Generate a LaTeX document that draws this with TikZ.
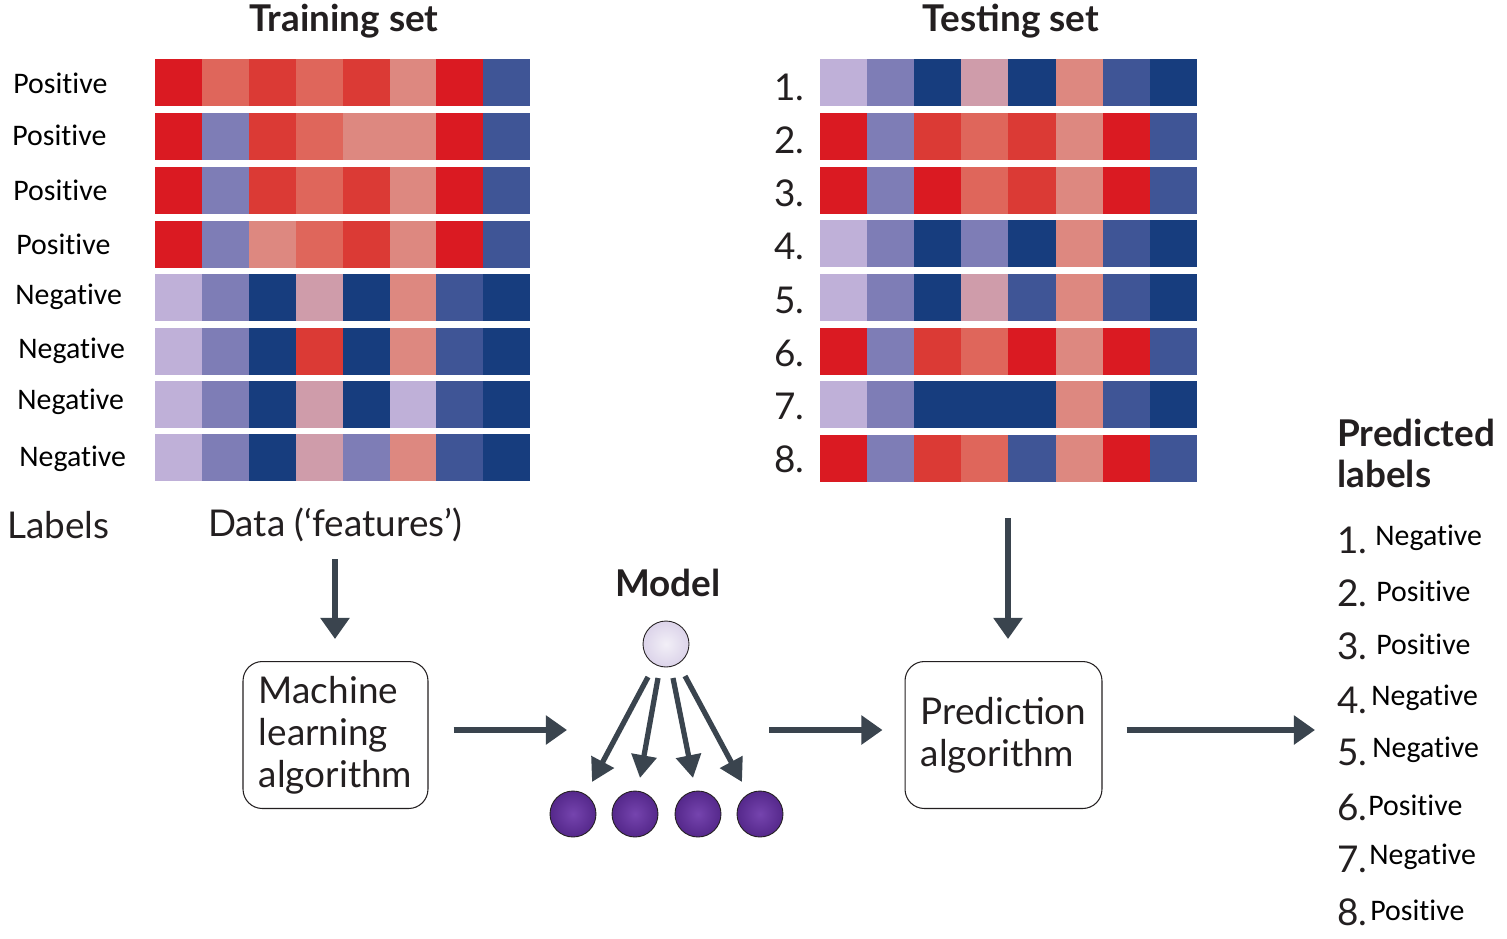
\documentclass[tikz,border=0pt]{standalone}
\usepackage{fontspec}
\setmainfont{Lato}
\newfontfamily\labelfont{Carlito}[Ligatures=NoCommon]
\usetikzlibrary{arrows.meta, positioning, calc}
\definecolor{hmra}{HTML}{DA1A22}
\definecolor{hmrb}{HTML}{DB3A35}
\definecolor{hmrc}{HTML}{DF665B}
\definecolor{hmpk}{HTML}{DD8880}
\definecolor{hmmv}{HTML}{CF9CAA}
\definecolor{hmlv}{HTML}{BFB0D8}
\definecolor{hmpu}{HTML}{7E7DB6}
\definecolor{hmbl}{HTML}{3F5596}
\definecolor{hmnv}{HTML}{173D7E}
\definecolor{arrowgray}{HTML}{3A444E}
\definecolor{inkgray}{HTML}{231F20}
\definecolor{leafin}{HTML}{7544AE}
\definecolor{leafout}{HTML}{55288B}
\tikzset{%
  flow/.style={line width=3.4pt, draw=arrowgray, -{Triangle[width=16pt,length=12pt]}},
  fan/.style={line width=3pt, draw=arrowgray, -{Triangle[width=14pt,length=13pt]}},
  algbox/.style={draw=inkgray, rounded corners=11pt, line width=0.6pt, align=left,
    inner xsep=0.3cm, text=inkgray, font=\fontsize{21}{24}\selectfont},
  title/.style={text=inkgray, font=\fontsize{21}{23}\selectfont\bfseries},
  thin text/.style={text=inkgray, font=\fontsize{21}{24}\selectfont},
  class label/.style={font=\labelfont\fontsize{17}{20}\selectfont},
  topball/.style={circle, draw=inkgray, line width=0.5pt, minimum size=0.92cm,
    inner sep=0pt, inner color=white!80!hmlv, outer color=hmlv!55},
  leafball/.style={circle, draw=inkgray, line width=0.5pt, minimum size=0.92cm,
    inner sep=0pt, inner color=leafin, outer color=leafout}
}
\begin{document}
\begin{tikzpicture}[x=0.02cm, y=-0.02cm]
  \useasboundingbox (0,0) rectangle (1507,938);
  % heat maps
  \foreach \y/\row in {59/{ra,rc,rb,rc,rb,pk,ra,bl}, 113/{ra,pu,rb,rc,pk,pk,ra,bl},
      167/{ra,pu,rb,rc,rb,pk,ra,bl}, 221/{ra,pu,pk,rc,rb,pk,ra,bl},
      274/{lv,pu,nv,mv,nv,pk,bl,nv}, 328/{lv,pu,nv,rb,nv,pk,bl,nv},
      381/{lv,pu,nv,mv,nv,lv,bl,nv}, 434/{lv,pu,nv,mv,pu,pk,bl,nv}}
    \foreach \c [count=\i from 0] in \row
      \fill[fill=hm\c] ({155+46.9*\i},\y) rectangle ++(46.9,47);
  \foreach \y/\row in {59/{lv,pu,nv,mv,nv,pk,bl,nv}, 113/{ra,pu,rb,rc,rb,pk,ra,bl},
      167/{ra,pu,ra,rc,rb,pk,ra,bl}, 220/{lv,pu,nv,pu,nv,pk,bl,nv},
      274/{lv,pu,nv,mv,bl,pk,bl,nv}, 328/{ra,pu,rb,rc,ra,pk,ra,bl},
      381/{lv,pu,nv,nv,nv,pk,bl,nv}, 435/{ra,pu,rb,rc,bl,pk,ra,bl}}
    \foreach \c [count=\i from 0] in \row
      \fill[fill=hm\c] ({820+47.1*\i},\y) rectangle ++(47.1,47);

  \node[title] (train) at (344,21) {Training set};
  \node[title] (test) at (1011,21) {Testing set};

  % class labels
  \foreach \x/\y/\t [count=\n] in {13/83/Positive, 12/135/Positive, 13/190/Positive,
      16/244/Positive, 15/297/Negative, 18/351/Negative, 17/402/Negative, 19/459/Negative}
    \node[class label, anchor=west, inner sep=0pt] (lab\n) at (\x,\y) {\t};
  \foreach \y [count=\n] in {87,140,193,246,300,353,406,459}
    \node[thin text, anchor=east, inner sep=0pt] (num\n) at (805,\y) {\n.};

  \node[thin text, anchor=west, inner sep=0pt] (labels) at (7,525) {Labels};
  \node[thin text, inner sep=0pt] (data) at (335,525) {Data (‘features’)};
  \coordinate (testbot) at (1008,481);

  % algorithms
  \node[algbox, minimum width=3.7cm, minimum height=2.94cm] (ml) at (335.5,735)
    {Machine\\learning\\algorithm};
  \node[algbox, minimum width=3.94cm, minimum height=2.94cm] (pred) at (1003.5,735)
    {Prediction\\algorithm};

  % model
  \node[title] (model) at (668,583) {Model};
  \node[topball] (top) at (666,644) {};
  \node[leafball] (b1) at (573,814) {};
  \node[leafball] (b2) at (635,814) {};
  \node[leafball] (b3) at (698,814) {};
  \node[leafball] (b4) at (760,814) {};
  \draw[fan] ($(top)+(-18,33)$) -- ($(b1)+(19,-32)$);
  \draw[fan] ($(top)+(-8,34)$) -- ($(b2)+(5,-36)$);
  \draw[fan] ($(top)+(7,34)$) -- ($(b3)+(-5,-36)$);
  \draw[fan] ($(top)+(19,32)$) -- ($(b4)+(-18,-32)$);
  \coordinate (modelin) at (567,730);
  \coordinate (modelout) at (769,730);
  \coordinate (predout) at (1315,730);

  % flow arrows
  \draw[flow, shorten <=0.34cm, shorten >=0.44cm] (data.south) -- (data.south |- ml.north);
  \draw[flow, shorten <=0.5cm] (ml.east |- modelin) -- (modelin);
  \draw[flow, shorten >=0.44cm] (modelout) -- (pred.west |- modelout);
  \draw[flow, shorten <=0.74cm, shorten >=0.44cm] (testbot) -- (testbot |- pred.north);
  \draw[flow, shorten <=0.48cm] (pred.east |- predout) -- (predout);

  % predicted labels
  \node[title, anchor=north west, align=left, inner sep=0pt] (predhead) at (1337,419)
    {Predicted\\labels};
  \foreach \y/\lx/\t [count=\n] in {540/1375/Negative, 593/1376/Positive, 646/1376/Positive,
      700/1371/Negative, 752/1372/Negative, 807/1368/Positive, 859/1369/Negative,
      912/1370/Positive} {
    \node[thin text, anchor=west, inner sep=0pt] (pn\n) at (1337,\y) {\n.};
    \node[class label, anchor=west, inner sep=0pt] (pl\n) at (\lx,\y-2) {\t};
  }
\end{tikzpicture}
\end{document}
